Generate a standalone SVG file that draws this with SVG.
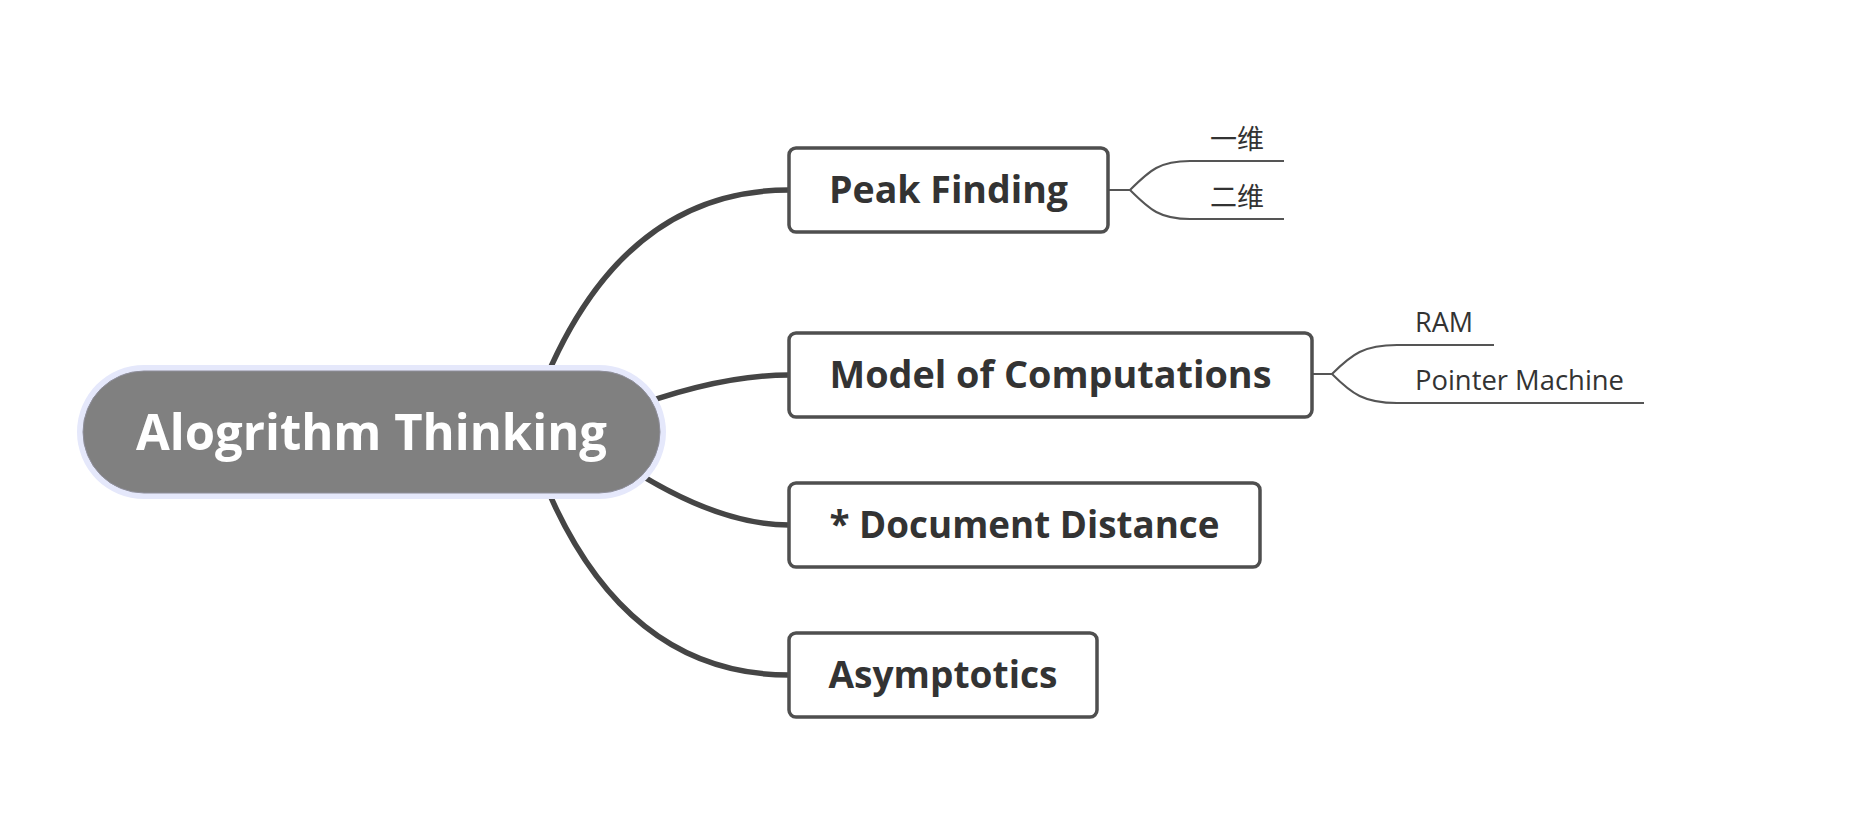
<svg xmlns="http://www.w3.org/2000/svg" width="1872" height="825" viewBox="0 0 1872 825">
<style>
.main{fill:none;stroke:#454545;stroke-width:5.5;stroke-linecap:round}
.sub{fill:none;stroke:#555555;stroke-width:2}
.box{fill:#ffffff;stroke:#4f4f4f;stroke-width:3.5}
.t1{font-family:"Open Sans","Noto Sans",sans-serif;font-weight:bold;font-size:37px;fill:#333333;text-anchor:middle}
.t2{font-family:"Open Sans","Noto Sans","Noto Sans CJK SC",sans-serif;font-size:27px;fill:#333333}
.root{font-family:"Open Sans","Noto Sans",sans-serif;font-weight:bold;font-size:50px;fill:#ffffff;text-anchor:middle}
</style>
<rect width="1872" height="825" fill="#ffffff"/>
<g id="connectors">
<path class="main" d="M526,432 Q604,190 789,190"/>
<path class="main" d="M620,412 Q716,375 789,375"/>
<path class="main" d="M610,455 Q711,525 789,525"/>
<path class="main" d="M526,432 Q604,675 789,675"/>
<path class="sub" d="M1108,190 L1130,190 C1150,170 1160,161 1190,161 L1284,161"/>
<path class="sub" d="M1130,190 C1150,210 1160,219 1190,219 L1284,219"/>
<path class="sub" d="M1312,374 L1332,374 C1352,354 1364,345 1397,345 L1494,345"/>
<path class="sub" d="M1332,374 C1352,394 1364,403 1397,403 L1644,403"/>
</g>
<g id="root">
<rect x="77" y="365" width="589" height="134" rx="67" fill="#e5e8fb"/>
<rect x="83" y="371" width="577" height="122" rx="61" fill="#808080" stroke="#8e8e9a" stroke-width="1"/>
<text class="root" x="371.5" y="450" textLength="471" lengthAdjust="spacingAndGlyphs">Alogrithm Thinking</text>
</g>
<g id="peak">
<rect class="box" x="789" y="148" width="319" height="84" rx="7"/>
<text class="t1" x="948.5" y="203" textLength="239" lengthAdjust="spacingAndGlyphs">Peak Finding</text>
</g>
<g id="model">
<rect class="box" x="789" y="333" width="523" height="84" rx="7"/>
<text class="t1" x="1050.5" y="388" textLength="442" lengthAdjust="spacingAndGlyphs">Model of Computations</text>
</g>
<g id="document">
<rect class="box" x="789" y="483" width="471" height="84" rx="7"/>
<text class="t1" x="1024.5" y="538" textLength="390" lengthAdjust="spacingAndGlyphs">* Document Distance</text>
</g>
<g id="asymptotics">
<rect class="box" x="789" y="633" width="308" height="84" rx="7"/>
<text class="t1" x="943" y="688" textLength="229" lengthAdjust="spacingAndGlyphs">Asymptotics</text>
</g>
<g id="yiwei"><text class="t2" x="1210" y="149">一维</text></g>
<g id="erwei"><text class="t2" x="1210" y="207">二维</text></g>
<g id="ram"><text class="t2" x="1415" y="332">RAM</text></g>
<g id="pointer"><text class="t2" x="1415" y="390" textLength="209" lengthAdjust="spacingAndGlyphs">Pointer Machine</text></g>
</svg>
